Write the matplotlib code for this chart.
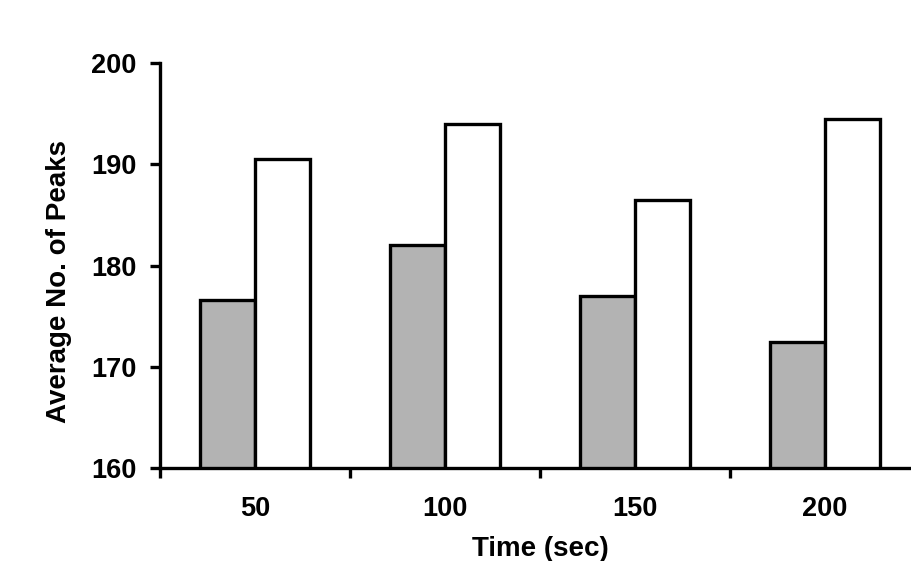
import matplotlib.pyplot as plt
import numpy as np

plt.rcParams['font.family'] = ['Liberation Sans', 'DejaVu Sans']
plt.rcParams['font.weight'] = 'bold'

times = ['50', '100', '150', '200']
gray_vals = [176.6, 182.0, 177.0, 172.4]
white_vals = [190.5, 194.0, 186.5, 194.5]
yticks = [160, 170, 180, 190, 200]

fig = plt.figure(figsize=(9.11, 5.61), dpi=100)
ax = fig.add_axes([160 / 911, 93 / 561, 760 / 911, 405 / 561])

x = np.arange(len(times))
w = 0.29
lw = 2.4
ax.bar(x - w / 2, gray_vals, w, bottom=0, color='#b3b3b3', edgecolor='black', linewidth=lw)
ax.bar(x + w / 2, white_vals, w, bottom=0, color='white', edgecolor='black', linewidth=lw)

ax.set_ylim(160, 200)
ax.set_xlim(-0.5, len(times) - 0.5)
ax.set_yticks(yticks)

# boundary ticks between groups, labels centred on groups
ax.set_xticks(np.arange(-0.5, len(times), 1.0))
ax.set_xticklabels([])
ax.set_xticks(x, minor=True)
ax.set_xticklabels(times, minor=True)
ax.tick_params(axis='x', which='minor', length=0, pad=20, labelsize=19.5)
ax.tick_params(axis='x', which='major', length=7, width=lw, direction='out')
ax.tick_params(axis='y', length=7, width=lw, direction='out', labelsize=19.5, pad=10)

for s in ['top', 'right']:
    ax.spines[s].set_visible(False)
for s in ['left', 'bottom']:
    ax.spines[s].set_linewidth(lw)

ax.set_xlabel('Time (sec)', fontsize=20, fontweight='bold', labelpad=10)
ax.set_ylabel('Average No. of Peaks', fontsize=20, fontweight='bold')
ax.yaxis.set_label_coords(-0.116, 0.46)

fig.savefig('out.png', dpi=100)
